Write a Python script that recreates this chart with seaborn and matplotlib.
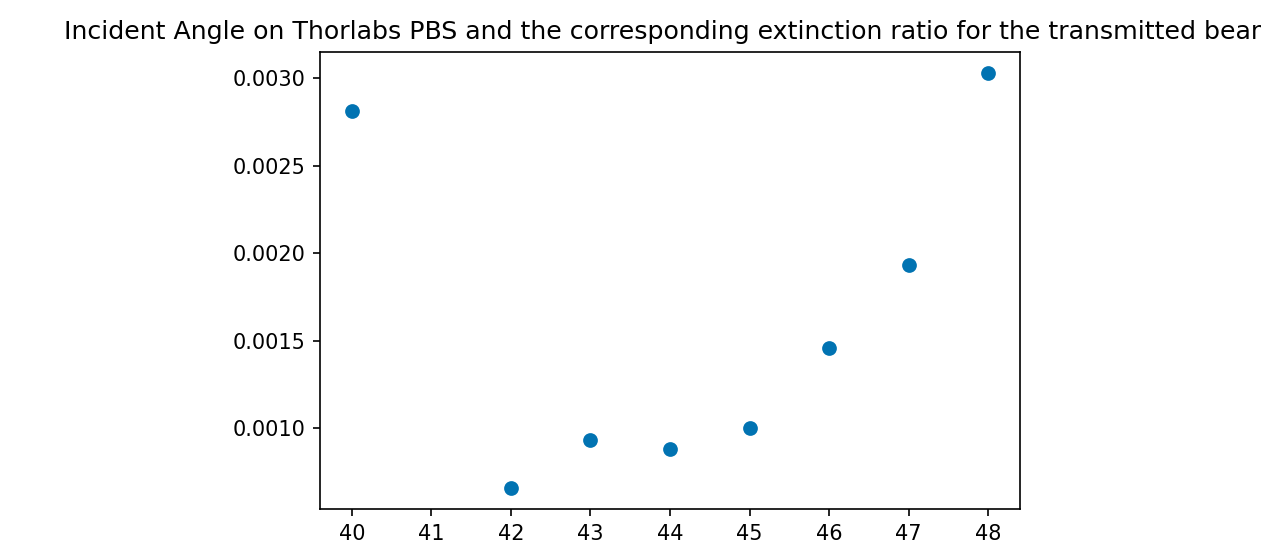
import matplotlib
matplotlib.use('Agg')
import matplotlib.pyplot as plt
import seaborn as sns
import pandas as pd

# values
angles = [40, 42, 43, 44, 45, 46, 47, 48]
extinction = [0.00281, 0.000657, 0.000931, 0.000880, 0.00100, 0.00146, 0.00193, 0.00303]
title = 'Incident Angle on Thorlabs PBS and the corresponding extinction ratio for the transmitted beam'

df = pd.DataFrame({'angle': angles, 'ratio': extinction})

fig = plt.figure(figsize=(1261 / 150, 545 / 150), dpi=150)
ax = fig.add_axes([320 / 1261, 36 / 545, 700 / 1261, 457 / 545])

sns.scatterplot(data=df, x='angle', y='ratio', ax=ax, color='#0173B2', s=50, linewidth=0)

ax.set_xlabel('')
ax.set_ylabel('')
ax.set_xticks(range(40, 49))
ax.set_yticks([0.0010, 0.0015, 0.0020, 0.0025, 0.0030])
ax.yaxis.set_major_formatter(matplotlib.ticker.FormatStrFormatter('%.4f'))
ax.set_title(title, fontsize=12.1)

fig.savefig('out.png', dpi=150)
